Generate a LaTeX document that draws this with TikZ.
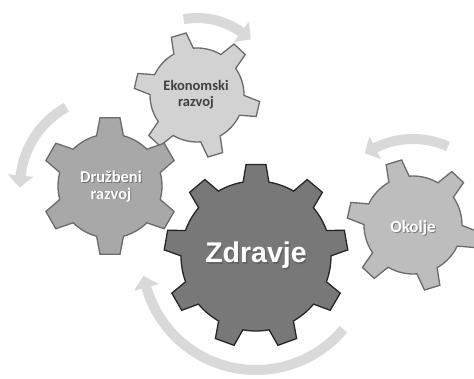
\documentclass[tikz,border=0pt]{standalone}
\usepackage{fontspec}
\newfontfamily\carlito{Carlito}
\newfontfamily\libsans{Liberation Sans}
\usetikzlibrary{arrows.meta,bending}
\definecolor{zfill}{HTML}{787878}
\definecolor{zline}{HTML}{262626}
\definecolor{dfill}{HTML}{A8A8A8}
\definecolor{efill}{HTML}{D2D2D2}
\definecolor{ofill}{HTML}{BDBDBD}
\definecolor{gline}{HTML}{6B6B6B}
\definecolor{arrowgray}{HTML}{D9D9D9}
\definecolor{shadowgray}{HTML}{555555}
\definecolor{ektext}{HTML}{404040}
% #1 style, #2 centre, #3 teeth, #4 Ro, #5 Ri, #6 rotation, #7 tip half angle, #8 base half angle, #9 last index
\newcommand{\drawgear}[9]{%
  \draw[#1, shift={#2}] ({#6-#8}:#5)
  \foreach \k [evaluate=\k as \a using #6+\k*360/#3] in {0,...,#9} {
    -- ({\a-#8}:#5) -- ({\a-#7}:#4) -- ({\a+#7}:#4) -- ({\a+#8}:#5)
    arc[start angle={\a+#8}, end angle={\a+360/#3-#8}, radius=#5]
  } -- cycle;%
}
\tikzset{
  gearbase/.style={line width=1.3pt, line join=miter},
  cyclearrow/.style={draw=arrowgray, line width=10pt, -{Triangle[width=25pt,length=12pt,bend]}},
  whitelabel/.style={text=white, font=\carlito\bfseries, inner sep=0pt},
  labelshadow/.style={text=shadowgray, font=\carlito\bfseries, inner sep=0pt, opacity=0.6},
}
\begin{document}
\begin{tikzpicture}[x=1pt,y=1pt]
\useasboundingbox (0,0) rectangle (474,379);
\fill[white] (0,0) rectangle (474,379);
\coordinate (E) at (197,284);
\coordinate (D) at (110,193);
\coordinate (O) at (413,154);
\coordinate (Z) at (256,123);
% cycle arrows
\draw[cyclearrow] (E) ++(100:77) arc[start angle=100, end angle=46, radius=77];
\draw[cyclearrow] (D) ++(119:90) arc[start angle=119, end angle=181, radius=90];
\draw[cyclearrow] (O) ++(66:86) arc[start angle=66, end angle=124, radius=86];
\draw[cyclearrow] (Z) ++(-40:114) arc[start angle=-40, end angle=-170, radius=114];
% gears
\drawgear{gearbase, fill=efill, draw=gline}{(E)}{6}{63}{47}{107}{7}{12.5}{5}
\drawgear{gearbase, fill=dfill, draw=gline}{(D)}{6}{69}{52}{90}{8.3}{15}{5}
\drawgear{gearbase, fill=ofill, draw=gline}{(O)}{6}{66}{49}{107}{7}{12.5}{5}
\drawgear{gearbase, fill=zfill, draw=zline}{(Z)}{9}{92}{75}{90}{6.2}{9.9}{8}
% labels
\node[text=ektext, font=\carlito\bfseries\fontsize{14.5}{16}\selectfont, align=center, inner sep=0pt] (ekotext) at (196,284) {Ekonomski\\razvoj};
\node[labelshadow, font=\carlito\bfseries\fontsize{16.5}{16.5}\selectfont, align=center] (druzshadow) at (112,191.7) {Družbeni\\razvoj};
\node[whitelabel, font=\carlito\bfseries\fontsize{16.5}{16.5}\selectfont, align=center] (druztext) at (111,192.5) {Družbeni\\razvoj};
\node[labelshadow, font=\carlito\bfseries\fontsize{17}{17}\selectfont, anchor=base] (okshadow) at (414,145.2) {Okolje};
\node[whitelabel, font=\carlito\bfseries\fontsize{17}{17}\selectfont, anchor=base] (oktext) at (413,146) {Okolje};
\node[labelshadow, font=\libsans\bfseries\fontsize{28.5}{30}\selectfont, anchor=base] (zshadow) at (257.2,114.8) {Zdravje};
\node[whitelabel, font=\libsans\bfseries\fontsize{28.5}{30}\selectfont, anchor=base] (ztext) at (256,116) {Zdravje};
\end{tikzpicture}
\end{document}
